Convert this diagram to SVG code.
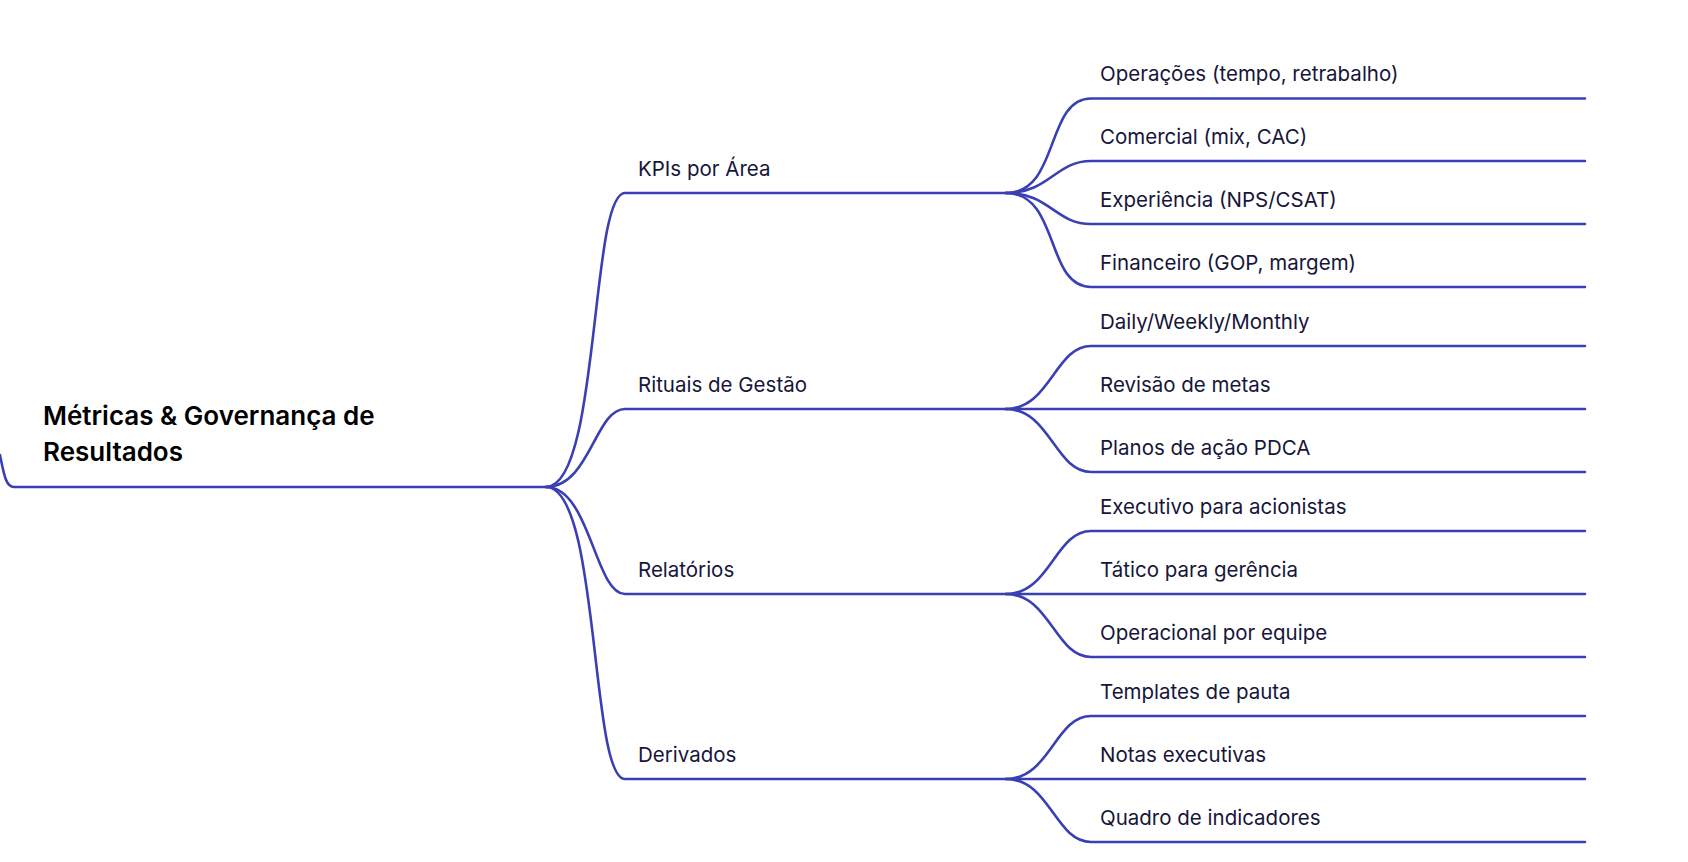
<svg xmlns="http://www.w3.org/2000/svg" width="1688" height="862" viewBox="0 0 1688 862">
<style>
.c{fill:none;stroke:#3a40b4;stroke-width:2.6;stroke-linecap:round}
.t{font-family:Inter,"Open Sans",sans-serif;font-size:20.5px;fill:#16163a}
.r{font-family:Inter,"Open Sans",sans-serif;font-size:26px;font-weight:600;fill:#000}
</style>
<rect width="1688" height="862" fill="#fff"/>
<g id="connectors">
<path class="c" d="M0,455 C4,475 6,487 14,487 L546,487"/>
<path class="c" d="M546,487 C600,487 590,193 625,193 L1006,193"/>
<path class="c" d="M546,487 C590,487 595,409 625,409 L1006,409"/>
<path class="c" d="M546,487 C590,487 595,594 625,594 L1006,594"/>
<path class="c" d="M546,487 C600,487 590,779 625,779 L1006,779"/>
<path class="c" d="M1006,193 C1060,193 1045,98.5 1091,98.5 L1585,98.5"/>
<path class="c" d="M1006,193 C1050,193 1055,161 1091,161 L1585,161"/>
<path class="c" d="M1006,193 C1050,193 1055,224 1091,224 L1585,224"/>
<path class="c" d="M1006,193 C1060,193 1045,287 1091,287 L1585,287"/>
<path class="c" d="M1006,409 C1050,409 1055,346 1091,346 L1585,346"/>
<path class="c" d="M1006,409 L1585,409"/>
<path class="c" d="M1006,409 C1050,409 1055,472 1091,472 L1585,472"/>
<path class="c" d="M1006,594 C1050,594 1055,531 1091,531 L1585,531"/>
<path class="c" d="M1006,594 L1585,594"/>
<path class="c" d="M1006,594 C1050,594 1055,657 1091,657 L1585,657"/>
<path class="c" d="M1006,779 C1050,779 1055,716 1091,716 L1585,716"/>
<path class="c" d="M1006,779 L1585,779"/>
<path class="c" d="M1006,779 C1050,779 1055,842 1091,842 L1585,842"/>
</g>
<g id="root"><text class="r" x="43" y="425">Métricas &amp; Governança de</text><text class="r" x="43" y="461">Resultados</text></g>
<g id="n1"><text class="t" x="638" y="176">KPIs por Área</text></g>
<g id="n2"><text class="t" x="638" y="392">Rituais de Gestão</text></g>
<g id="n3"><text class="t" x="638" y="577">Relatórios</text></g>
<g id="n4"><text class="t" x="638" y="762">Derivados</text></g>
<g id="n11"><text class="t" x="1100" y="81">Operações (tempo, retrabalho)</text></g>
<g id="n12"><text class="t" x="1100" y="144">Comercial (mix, CAC)</text></g>
<g id="n13"><text class="t" x="1100" y="207">Experiência (NPS/CSAT)</text></g>
<g id="n14"><text class="t" x="1100" y="270">Financeiro (GOP, margem)</text></g>
<g id="n21"><text class="t" x="1100" y="329">Daily/Weekly/Monthly</text></g>
<g id="n22"><text class="t" x="1100" y="392">Revisão de metas</text></g>
<g id="n23"><text class="t" x="1100" y="455">Planos de ação PDCA</text></g>
<g id="n31"><text class="t" x="1100" y="514">Executivo para acionistas</text></g>
<g id="n32"><text class="t" x="1100" y="577">Tático para gerência</text></g>
<g id="n33"><text class="t" x="1100" y="640">Operacional por equipe</text></g>
<g id="n41"><text class="t" x="1100" y="699">Templates de pauta</text></g>
<g id="n42"><text class="t" x="1100" y="762">Notas executivas</text></g>
<g id="n43"><text class="t" x="1100" y="825">Quadro de indicadores</text></g>
</svg>
